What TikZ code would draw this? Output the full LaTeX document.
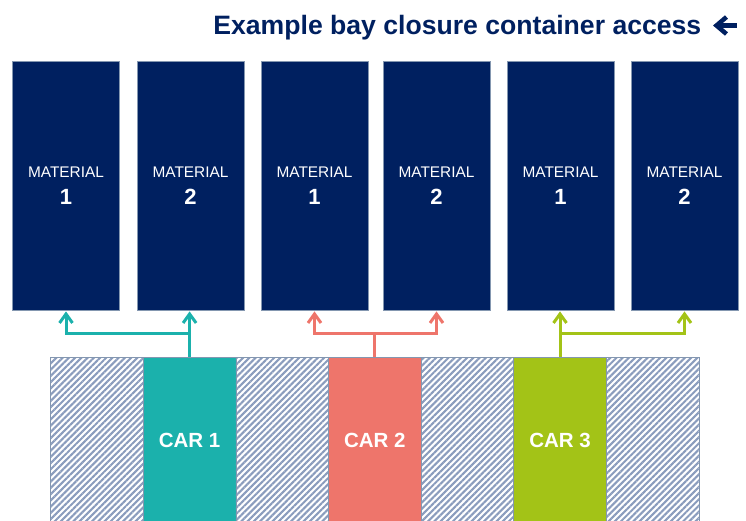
\documentclass[tikz,border=0pt]{standalone}
\usepackage{fontspec}
\setmainfont{Liberation Sans}
\usetikzlibrary{arrows.meta,patterns.meta}
\definecolor{navy}{HTML}{002060}
\definecolor{edgegrey}{HTML}{8497B0}
\definecolor{hatchcol}{HTML}{8A9CBD}
\definecolor{teal}{HTML}{1BB1AC}
\definecolor{salmon}{HTML}{EE756B}
\definecolor{lime}{HTML}{A3C317}
\tikzset{
  matbox/.style={draw=edgegrey, line width=0.8pt, fill=navy, minimum width=107pt, minimum height=248.5pt, inner sep=0pt, text=white, align=center, font=\fontsize{15.4}{26.7}\selectfont},
  hatchbox/.style={draw=edgegrey, line width=0.8pt, minimum width=92.6pt, minimum height=167pt, inner sep=0pt, pattern={Lines[angle=45,distance=4.4pt,line width=2.1pt]}, pattern color=hatchcol},
  carbox/.style={draw=edgegrey, line width=0.8pt, fill=#1, minimum width=92.6pt, minimum height=167pt, inner sep=0pt, text=white, font=\bfseries\fontsize{20.5}{24}\selectfont},
  link/.style={draw=#1, line width=3pt, -{Straight Barb[length=9pt,width=13pt,line width=3pt]}},
  stem/.style={draw=#1, line width=3pt}
}
\newcommand{\matlabel}[1]{MATERIAL\\{\bfseries\fontsize{22}{26.7}\selectfont #1}}
\begin{document}
\begin{tikzpicture}[x=1pt,y=-1pt]
\useasboundingbox (0,0) rectangle (746,520);
% title
\node[anchor=base east, text=navy, font=\bfseries\fontsize{26.6}{30}\selectfont, inner sep=0pt] (title) at (701.5,34.5) {Example bay closure container access};
\coordinate (arrowend) at (713,25.5);
\draw[draw=navy, line width=4.5pt, -{Straight Barb[length=10pt,width=17pt,line width=4.5pt]}] (arrowend -| 736.5,0) -- (arrowend);
% materials
\node[matbox] (m1) at (66,185.75) {\matlabel{1}};
\node[matbox] (m2) at (190.5,185.75) {\matlabel{2}};
\node[matbox] (m3) at (314.5,185.75) {\matlabel{1}};
\node[matbox] (m4) at (436.5,185.75) {\matlabel{2}};
\node[matbox] (m5) at (560.5,185.75) {\matlabel{1}};
\node[matbox] (m6) at (684.5,185.75) {\matlabel{2}};
% strip
\node[hatchbox] (h1) at (97,440.5) {};
\node[carbox=teal] (c1) at (189.6,440.5) {CAR 1};
\node[hatchbox] (h2) at (282.2,440.5) {};
\node[carbox=salmon] (c2) at (374.8,440.5) {CAR 2};
\node[hatchbox] (h3) at (467.4,440.5) {};
\node[carbox=lime] (c3) at (560,440.5) {CAR 3};
\node[hatchbox] (h4) at (652.6,440.5) {};
% connectors
\path (c1.north) ++(0,-23.5) coordinate (j1);
\path (c2.north) ++(0,-23.5) coordinate (j2);
\path (c3.north) ++(0,-23.5) coordinate (j3);
\draw[link=teal] (c1.north) -- ([yshift=-1pt]m2.south -| c1.north);
\draw[link=teal] (j1) -| ([yshift=-1pt]m1.south);
\draw[stem=salmon] (c2.north) -- (j2);
\draw[link=salmon] (j2) -| ([yshift=-1pt]m3.south);
\draw[link=salmon] (j2) -| ([yshift=-1pt]m4.south);
\draw[link=lime] (c3.north) -- ([yshift=-1pt]m5.south -| c3.north);
\draw[link=lime] (j3) -| ([yshift=-1pt]m6.south);
\end{tikzpicture}
\end{document}
